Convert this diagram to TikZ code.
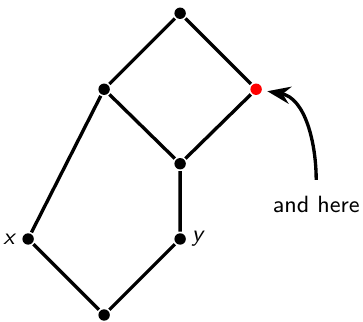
\documentclass[tikz,border=0pt]{standalone}
\usetikzlibrary{arrows.meta}
\begin{document}
\begin{tikzpicture}[>=Stealth,font=\fontsize{8.8pt}{10.5pt}\selectfont\sffamily,line width=1.25pt,
 dot/.style={circle,fill,inner sep=0pt,minimum size=0.15cm}]
\useasboundingbox (0,0) rectangle (4.776,4.224);
\node[dot] (bot) at (1.37,0.08) {};
\node[dot,label={[inner sep=1pt]left:\textit{x}}] (x) at (0.37,1.08) {};
\node[dot,label={[inner sep=1pt]right:\textit{y}}] (y) at (2.37,1.08) {};
\node[dot] (mid) at (2.37,2.07) {};
\node[dot] (lm) at (1.37,3.05) {};
\node[dot,red] (rm) at (3.37,3.05) {};
\node[dot] (top) at (2.37,4.05) {};
\draw (bot) -- (x) -- (lm) -- (top) -- (rm) -- (mid) -- (lm);
\draw (bot) -- (y) -- (mid);
\node (lbl) at (4.16,1.54) {and here};
\draw[->,shorten <=2pt,shorten >=1.5pt] (lbl.north) to[out=90,in=-10] (rm);
\end{tikzpicture}
\end{document}
